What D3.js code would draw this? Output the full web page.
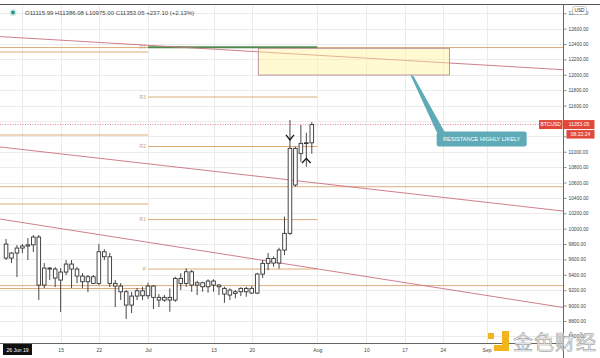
<!DOCTYPE html>
<html><head><meta charset="utf-8">
<script src="https://cdn.jsdelivr.net/npm/d3@7"></script>
<style>body{margin:0;background:#fff}svg{display:block;font-family:"Liberation Sans",Arial,sans-serif}</style>
</head><body><svg id="c" width="600" height="358"></svg>
<script>
// ---------- data ----------
const dates = ["2020-06-05","2020-06-06","2020-06-07","2020-06-08","2020-06-09","2020-06-10","2020-06-11","2020-06-12","2020-06-13","2020-06-14",
"2020-06-15","2020-06-16","2020-06-17","2020-06-18","2020-06-19","2020-06-20","2020-06-21","2020-06-22","2020-06-23","2020-06-24",
"2020-06-25","2020-06-26","2020-06-27","2020-06-28","2020-06-29","2020-06-30","2020-07-01","2020-07-02","2020-07-03","2020-07-04",
"2020-07-05","2020-07-06","2020-07-07","2020-07-08","2020-07-09","2020-07-10","2020-07-11","2020-07-12","2020-07-13","2020-07-14",
"2020-07-15","2020-07-16","2020-07-17","2020-07-18","2020-07-19","2020-07-20","2020-07-21","2020-07-22","2020-07-23","2020-07-24",
"2020-07-25","2020-07-26","2020-07-27","2020-07-28","2020-07-29","2020-07-30","2020-07-31"];
const opens  = [9800,9618,9683,9748,9774,9790,9891,9267,9488,9475, 9332,9436,9540,9475,9384,9310,9375,9289,9700,9635,
  9289,9254,9180,9007,9124,9193,9128,9254,9107,9072, 9107,9072,9354,9289,9440,9267,9297,9245,9319,9267,
  9224,9137,9180,9180,9224,9224,9163,9410,9549,9612, 9553,9722,9939,11044,10979,11109,11115.99];
const highs  = [9865,9696,9787,9800,9878,9917,9917,9553,9501,9501, 9488,9592,9592,9501,9423,9397,9397,9800,9735,9683,
  9332,9293,9202,9180,9228,9245,9297,9267,9150,9137, 9224,9375,9419,9484,9462,9323,9310,9341,9341,9280,
  9245,9224,9202,9237,9245,9254,9427,9592,9683,9640, 9752,10155,11412,11065,11347,11247,11386.08];
const lows   = [9592,9553,9371,9683,9592,9696,9072,9228,9332,9241, 8916,9397,9228,9293,9228,9176,9280,9267,9592,9241,
  8981,9072,8825,8903,9072,9072,9085,8955,8981,9050, 8920,9050,9202,9245,9180,9137,9180,9167,9180,9137,
  9037,9072,9094,9124,9115,9150,9150,9360,9462,9505, 9480,9657,9917,10545,10870,10805,10975.00];
const closes = [9618,9683,9748,9774,9790,9891,9267,9488,9475,9358, 9436,9540,9475,9384,9310,9375,9289,9700,9635,9289,
  9254,9180,9007,9124,9193,9128,9254,9107,9072,9107, 9072,9354,9289,9440,9267,9297,9245,9319,9267,9245,
  9150,9202,9159,9224,9180,9163,9410,9549,9612,9553, 9722,9939,11044,10567,11109,11116,11353.05];

const yTicks = [8600,8800,9000,9200,9400,9600,9800,10000,10200,10400,10600,10800,11000,11200,11400,11600,11800,12000,12200,12400,12600,12800];
const yHiddenLabels = [11200,11400]; // covered by the price badges in the reference
const xTickDates  = ["2020-06-08","2020-06-15","2020-06-22","2020-07-01","2020-07-13","2020-07-20","2020-08-01","2020-08-10","2020-08-17","2020-08-24","2020-09-01"];
const xTickLabels = ["","15","22","Jul","13","20","Aug","10","17","24","Sep"];

// pivot segments
const junePivotPrices = [12296,11217,10320,9222];
const julyPivotLabels = ["R4","R3","R2","R1","P"];
const julyPivotPrices = [12357,11711,11068,10118,9475];
// user horizontal lines
const hLinePrices = [12354,10545,9260];
// trend lines
const trendStarts = ["2020-06-03","2020-06-03","2020-06-03"];
const trendStartPrices = [12500,11069,10135];
const trendEnds = ["2020-09-16","2020-09-16","2020-09-16"];
const trendEndPrices = [12062,10221,8965];
// resistance box
const boxDates = ["2020-07-21T05:00Z","2020-08-25T05:00Z"];
const boxPrices = [12344,11997];
const calloutText = "RESISTANCE HIGHLY LIKELY";
const calloutAnchor = ["2020-08-18T07:00Z", 11990];
const lastClose = 11353.05;
const header = "O11115.99 H11386.08 L10975.00 C11353.05 +237.10 (+2.13%)";
const arrowDown = ["2020-07-27", 11185];
const arrowUp   = ["2020-07-30", 10885];

// ---------- scales ----------
const P = d => new Date(d.length === 10 ? d + "T00:00Z" : d);
const W = 600, H = 358, plotR = 563, plotT = 4, plotB = 343;
const x = d3.scaleUtc().domain([P("2020-06-03T21:27Z"), P("2020-09-15T00:10Z")]).range([0, plotR]);
const y = d3.scaleLinear().domain([8514, 12920]).range([plotB, plotT]);

const svg = d3.select("#c");
svg.append("rect").attr("width", W).attr("height", H).attr("fill", "#fff");
svg.append("defs").append("clipPath").attr("id", "clip")
  .append("rect").attr("x", 0).attr("y", plotT + 0.5).attr("width", plotR).attr("height", plotB - plotT - 0.5);

// grid
const grid = svg.append("g").attr("clip-path", "url(#clip)");
grid.selectAll(".hg").data(yTicks).join("line")
  .attr("x1", 0).attr("x2", plotR).attr("y1", d => Math.round(y(d)) + 0.5).attr("y2", d => Math.round(y(d)) + 0.5)
  .attr("stroke", "#ebebeb").attr("stroke-width", 1);
grid.selectAll(".vg").data(xTickDates).join("line")
  .attr("y1", plotT).attr("y2", plotB).attr("x1", d => Math.round(x(P(d))) + 0.5).attr("x2", d => Math.round(x(P(d))) + 0.5)
  .attr("stroke", "#ebebeb").attr("stroke-width", 1);

const g = svg.append("g").attr("clip-path", "url(#clip)");
const pivotCol = "#d9a36a";

g.selectAll(".hl").data(hLinePrices).join("line")
  .attr("x1", 0).attr("x2", plotR).attr("y1", d => y(d)).attr("y2", d => y(d))
  .attr("stroke", pivotCol).attr("stroke-width", 0.9);

g.selectAll(".jp").data(junePivotPrices).join("line")
  .attr("x1", x(P("2020-06-01"))).attr("x2", x(P("2020-07-01"))).attr("y1", d => y(d)).attr("y2", d => y(d))
  .attr("stroke", pivotCol).attr("stroke-width", 0.9);
g.selectAll(".kp").data(julyPivotPrices).join("line")
  .attr("x1", x(P("2020-07-01"))).attr("x2", x(P("2020-08-01"))).attr("y1", d => y(d)).attr("y2", d => y(d))
  .attr("stroke", (d, i) => i === 0 ? "#4f8a4f" : pivotCol).attr("stroke-width", (d, i) => i === 0 ? 2 : 0.9);
g.selectAll(".kpl").data(julyPivotPrices).join("text")
  .attr("x", x(P("2020-07-01")) - 2).attr("y", d => y(d) + 1.8).attr("text-anchor", "end")
  .attr("font-size", 5).attr("fill", "#c9a27a").text((d, i) => julyPivotLabels[i]);

g.selectAll(".tl").data(trendStarts).join("line")
  .attr("x1", d => x(P(d))).attr("y1", (d, i) => y(trendStartPrices[i]))
  .attr("x2", (d, i) => x(P(trendEnds[i]))).attr("y2", (d, i) => y(trendEndPrices[i]))
  .attr("stroke", "#c9707e").attr("stroke-width", 0.9);

const bx0 = x(P(boxDates[0])), bx1 = x(P(boxDates[1]));
g.append("rect").attr("x", bx0).attr("y", y(boxPrices[0])).attr("width", bx1 - bx0).attr("height", y(boxPrices[1]) - y(boxPrices[0]))
  .attr("fill", "#fff59a").attr("fill-opacity", 0.45).attr("stroke", "#b98a98").attr("stroke-width", 0.9);

g.append("line").attr("x1", 0).attr("x2", plotR).attr("y1", y(lastClose)).attr("y2", y(lastClose))
  .attr("stroke", "#e58a8f").attr("stroke-width", 1).attr("stroke-dasharray", "1,1.5");

// candles
const candles = dates.map((d, i) => ({d: P(d), o: opens[i], h: highs[i], l: lows[i], c: closes[i]}));
const cw = 3.6, candleCol = "#333";
const cg = g.append("g");
cg.selectAll(".w").data(candles).join("line")
  .attr("x1", d => x(d.d)).attr("x2", d => x(d.d)).attr("y1", d => y(d.h)).attr("y2", d => y(d.l))
  .attr("stroke", candleCol).attr("stroke-width", 0.9);
cg.selectAll(".b").data(candles).join("rect")
  .attr("x", d => x(d.d) - cw / 2).attr("width", cw)
  .attr("y", d => y(Math.max(d.o, d.c))).attr("height", d => Math.max(0.8, Math.abs(y(d.o) - y(d.c))))
  .attr("fill", "#fff").attr("stroke", candleCol).attr("stroke-width", 0.9);

// arrows
const ad = [x(P(arrowDown[0])), y(arrowDown[1])];
g.append("path").attr("d", `M${ad[0]-4},${ad[1]-2.6}L${ad[0]},${ad[1]+2.4}L${ad[0]+4},${ad[1]-2.6}`)
  .attr("fill", "none").attr("stroke", "#111").attr("stroke-width", 1.3);
const au = [x(P(arrowUp[0])), y(arrowUp[1])];
g.append("path").attr("d", `M${au[0]-4.3},${au[1]+2.4}L${au[0]},${au[1]-2.2}L${au[0]+4.3},${au[1]+2.4}`)
  .attr("fill", "none").attr("stroke", "#111").attr("stroke-width", 1.3);

// callout
const teal = "#5eaab6";
const ax = x(P(calloutAnchor[0])), ay = y(calloutAnchor[1]);
const bubX = ax + 25, bubY = ay + 56;
svg.append("path").attr("d", `M${ax-1},${ay}L${ax+1.5},${ay}L${bubX+8},${bubY+0.5}L${bubX},${bubY+0.5}Z`).attr("fill", teal);
svg.append("rect").attr("x", bubX).attr("y", bubY).attr("width", 90).attr("height", 15).attr("rx", 2.5).attr("fill", teal);
svg.append("text").attr("x", bubX + 45).attr("y", bubY + 9.6).attr("text-anchor", "middle")
  .attr("font-size", 5.6).attr("fill", "#fff").text(calloutText);

svg.append("line").attr("x1", 0).attr("x2", W).attr("y1", 4.5).attr("y2", 4.5).attr("stroke", "#555").attr("stroke-width", 1);

// y axis
const yAxis = svg.append("g").attr("transform", `translate(${plotR + 0.5},0)`)
  .call(d3.axisRight(y).tickValues(yTicks).tickFormat(d => yHiddenLabels.includes(d) ? "" : d3.format(".2f")(d)).tickSize(3).tickPadding(2));
yAxis.select(".domain").attr("stroke", "#666").attr("d", `M0,${plotT}V${H}`);
yAxis.selectAll(".tick line").attr("stroke", "#888");
yAxis.selectAll("text").attr("font-size", 4.8).attr("fill", "#444").attr("font-family", "Liberation Sans, Arial, sans-serif");

// x axis
const xAxis = svg.append("g").attr("transform", `translate(0,${plotB + 0.5})`)
  .call(d3.axisBottom(x).tickValues(xTickDates.map(P)).tickFormat((d, i) => xTickLabels[i]).tickSize(0).tickPadding(5));
xAxis.select(".domain").attr("stroke", "#666").attr("d", `M0,0H${plotR}`);
xAxis.selectAll("text").attr("font-size", 5).attr("fill", "#444").attr("font-family", "Liberation Sans, Arial, sans-serif");

svg.append("rect").attr("x", 3).attr("y", 344).attr("width", 29).attr("height", 11).attr("fill", "#111");
svg.append("text").attr("x", 17.5).attr("y", 351.5).attr("text-anchor", "middle").attr("font-size", 5).attr("fill", "#fff").text("26 Jun 19");

svg.append("rect").attr("x", 572.5).attr("y", 6.5).attr("width", 14).attr("height", 8).attr("rx", 2).attr("fill", "#fff").attr("stroke", "#aaa").attr("stroke-width", 0.6);
svg.append("text").attr("x", 579.5).attr("y", 12.4).attr("text-anchor", "middle").attr("font-size", 4.8).attr("fill", "#333").text("USD");

const red = "#e0493a";
const py = y(lastClose);
svg.append("rect").attr("x", 539).attr("y", py - 4.5).attr("width", 23.5).attr("height", 9).attr("fill", red);
svg.append("text").attr("x", 550.7).attr("y", py + 1.8).attr("text-anchor", "middle").attr("font-size", 5).attr("fill", "#fff").text("BTCUSD");
svg.append("rect").attr("x", 563.5).attr("y", py - 4.5).attr("width", 31).attr("height", 9).attr("fill", red);
svg.append("text").attr("x", 579).attr("y", py + 1.8).attr("text-anchor", "middle").attr("font-size", 5).attr("fill", "#fff").text(d3.format(".2f")(lastClose));
svg.append("rect").attr("x", 566.5).attr("y", py + 5.5).attr("width", 28).attr("height", 8.5).attr("fill", red);
svg.append("text").attr("x", 580.5).attr("y", py + 11.5).attr("text-anchor", "middle").attr("font-size", 5).attr("fill", "#fff").text("08:22:24");

svg.append("circle").attr("cx", 13).attr("cy", 12.5).attr("r", 3.6).attr("fill", "#d4ebe8");
svg.append("circle").attr("cx", 13).attr("cy", 12.5).attr("r", 2).attr("fill", "#2b9a8c");
svg.append("text").attr("x", 25).attr("y", 15).attr("font-size", 6).attr("fill", "#444").text(header);

const wm = svg.append("g");
wm.append("rect").attr("x", 488).attr("y", 333).attr("width", 6).attr("height", 6).attr("fill", "#f2b51c");
wm.append("path").attr("d", "M502,331H509V351H494V345H502Z").attr("fill", "#f2b51c");
wm.append("text").attr("x", 513).attr("y", 350).attr("font-size", 20).attr("textLength", 83)
  .attr("font-family", "Noto Sans CJK SC").attr("fill", "#f6f6f6").attr("stroke", "#a9a9a9").attr("stroke-width", 0.7).text("金色财经");
</script></body></html>
